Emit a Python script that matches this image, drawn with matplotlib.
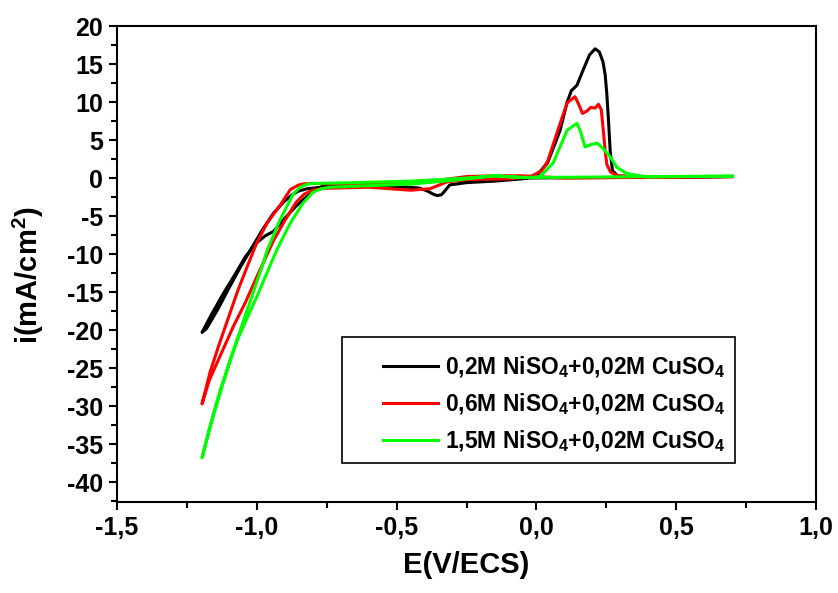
import matplotlib
matplotlib.use("Agg")
import matplotlib.pyplot as plt
from matplotlib.ticker import MultipleLocator, FuncFormatter
from matplotlib.patches import Rectangle

plt.rcParams['font.family'] = ['Liberation Sans', 'DejaVu Sans']
plt.rcParams['font.weight'] = 'bold'
plt.rcParams['mathtext.fontset'] = 'custom'
plt.rcParams['mathtext.rm'] = 'Liberation Sans:bold'
plt.rcParams['mathtext.bf'] = 'Liberation Sans:bold'
plt.rcParams['mathtext.it'] = 'Liberation Sans:bold'
plt.rcParams['mathtext.default'] = 'bf'

labels = [r'0,2M NiSO$_4$+0,02M CuSO$_4$',
          r'0,6M NiSO$_4$+0,02M CuSO$_4$',
          r'1,5M NiSO$_4$+0,02M CuSO$_4$']
colors = ['#000000', '#ff0000', '#00ff00']

# 0.2M NiSO4 (black): scan from 0.7 V cathodic to -1.2 V and back
E_02 = [0.70, 0.40, 0.10, -0.05, -0.15, -0.30, -0.50, -0.70, -0.76, -0.79, -0.82, -0.86, -0.90,
        -0.94, -0.97, -1.00, -1.04, -1.08, -1.12, -1.16, -1.196,
        -1.18, -1.14, -1.10, -1.06, -1.02, -0.98, -0.94, -0.90, -0.87, -0.85, -0.82, -0.78, -0.65,
        -0.50, -0.42, -0.39, -0.37, -0.355, -0.34, -0.33, -0.31, -0.25, -0.15, -0.05, 0.0, 0.04, 0.085,
        0.11, 0.125, 0.145, 0.167, 0.19, 0.21, 0.225, 0.238, 0.246, 0.252, 0.258, 0.264,
        0.272, 0.29, 0.35, 0.50, 0.70]
I_02 = [0.2, 0.1, 0.05, 0.0, -0.1, -0.3, -0.6, -0.8, -1.0, -1.5, -2.4, -3.7, -5.3,
        -7.0, -7.6, -8.5, -10.3, -12.8, -15.2, -17.8, -20.3,
        -19.8, -17.3, -14.5, -11.8, -9.3, -6.8, -4.6, -3.0, -2.1, -1.7, -1.4, -1.25, -1.1,
        -1.1, -1.3, -1.7, -2.1, -2.3, -2.2, -1.8, -0.9, -0.6, -0.4, -0.1, 0.3, 2.0, 6.3,
        10.0, 11.5, 12.2, 14.2, 16.2, 17.0, 16.6, 15.3, 13.6, 11.0, 7.5, 3.5,
        1.0, 0.3, 0.15, 0.15, 0.2]

# 0.6M NiSO4 (red)
E_06 = [0.70, 0.40, 0.10, -0.05, -0.15, -0.25, -0.35, -0.50, -0.70, -0.80, -0.83, -0.85,
        -0.88, -0.917, -0.963, -1.00, -1.035, -1.07, -1.10, -1.135, -1.167, -1.18, -1.196,
        -1.17, -1.13, -1.085, -1.04, -1.00, -0.96, -0.94, -0.90, -0.86, -0.83, -0.80, -0.76,
        -0.60, -0.45, -0.38, -0.32, -0.25, -0.10, -0.02, 0.02, 0.04, 0.085, 0.11, 0.138,
        0.15, 0.165, 0.18, 0.195, 0.21, 0.222, 0.232, 0.240, 0.246, 0.252, 0.265, 0.29,
        0.40, 0.70]
I_06 = [0.2, 0.1, 0.0, 0.3, 0.3, 0.2, -0.3, -0.7, -0.8, -0.7, -0.75, -0.9,
        -1.5, -3.6, -5.9, -8.5, -11.7, -15.0, -18.2, -21.9, -25.5, -27.4, -29.7,
        -26.6, -23.3, -19.6, -16.3, -13.0, -9.8, -8.2, -5.6, -3.2, -2.1, -1.6, -1.35,
        -1.2, -1.6, -1.4, -0.5, -0.2, -0.1, 0.2, 1.0, 2.2, 7.2, 9.9, 10.7,
        9.8, 8.5, 8.8, 9.3, 9.2, 9.7, 9.0, 6.0, 3.5, 1.8, 0.8, 0.3,
        0.15, 0.2]

# 1.5M NiSO4 (green)
E_15 = [0.70, 0.40, 0.10, -0.05, -0.15, -0.25, -0.45, -0.65, -0.78, -0.80, -0.82, -0.845,
        -0.87, -0.917, -0.963, -0.978, -1.035, -1.096, -1.157, -1.196,
        -1.17, -1.13, -1.07, -1.00, -0.928, -0.88, -0.835, -0.80, -0.77, -0.738, -0.60, -0.45,
        -0.30, -0.15, -0.05, 0.0, 0.013, 0.06, 0.11, 0.145, 0.156, 0.174, 0.195, 0.217,
        0.238, 0.264, 0.288, 0.324, 0.396, 0.70]
I_15 = [0.25, 0.2, 0.1, 0.1, 0.3, 0.0, -0.4, -0.6, -0.7, -0.7, -0.8, -1.2,
        -2.1, -5.5, -9.5, -11.3, -17.4, -24.0, -31.4, -36.8,
        -33.0, -27.8, -21.3, -15.6, -9.4, -5.9, -3.3, -1.9, -1.4, -1.2, -1.0, -0.8,
        -0.3, 0.3, 0.05, 0.1, 0.2, 2.0, 6.3, 7.2, 6.3, 4.1, 4.4, 4.6,
        3.9, 2.8, 1.4, 0.6, 0.15, 0.25]

series = [(E_02, I_02), (E_06, I_06), (E_15, I_15)]

fig = plt.figure(figsize=(8.38, 5.93), dpi=100)
ax = fig.add_axes([117/838, 1-502/593, (816-117)/838, (502-26)/593])

lines = []
for (E, I), c, lab in zip(series, colors, labels):
    ln, = ax.plot(E, I, color=c, lw=2.2, label=lab, solid_joinstyle='round')
    lines.append(ln)

ax.set_xlim(-1.5, 1.0)
ax.set_ylim(-42.6, 20)
ax.xaxis.set_major_locator(MultipleLocator(0.5))
ax.xaxis.set_minor_locator(MultipleLocator(0.25))
ax.yaxis.set_major_locator(MultipleLocator(5))
ax.yaxis.set_minor_locator(MultipleLocator(2.5))
ax.xaxis.set_major_formatter(FuncFormatter(lambda v, p: f"{v:.1f}".replace('.', ',')))
ax.yaxis.set_major_formatter(FuncFormatter(lambda v, p: f"{v:.0f}"))
ax.tick_params(which='major', direction='out', length=6, width=1.5, labelsize=18, pad=4)
ax.tick_params(which='minor', direction='out', length=4, width=1.5)
for lab in ax.get_xticklabels() + ax.get_yticklabels():
    lab.set_fontweight('bold')
for s in ax.spines.values():
    s.set_linewidth(1.5)

ax.set_xlabel('E(V/ECS)', fontsize=21, fontweight='bold', labelpad=8)
ax.set_ylabel(r'i(mA/cm$^2$)', fontsize=21, fontweight='bold')
ax.yaxis.set_label_coords((46-117)/699, (502-275)/476)

# legend box
ax.add_patch(Rectangle(((342-117)/699, (502-463)/476), (735-342)/699, (463-337)/476,
                       transform=ax.transAxes, fill=False, edgecolor='black', lw=1.2, zorder=5))
leg = ax.legend(handles=lines, loc='upper left',
                bbox_to_anchor=((383-117)/699, (502-354)/476),
                frameon=False, prop={'weight': 'bold', 'size': 16.5},
                handlelength=2.4, handletextpad=0.3, labelspacing=0.5,
                borderpad=0, borderaxespad=0)

fig.savefig('out.png', dpi=100)
